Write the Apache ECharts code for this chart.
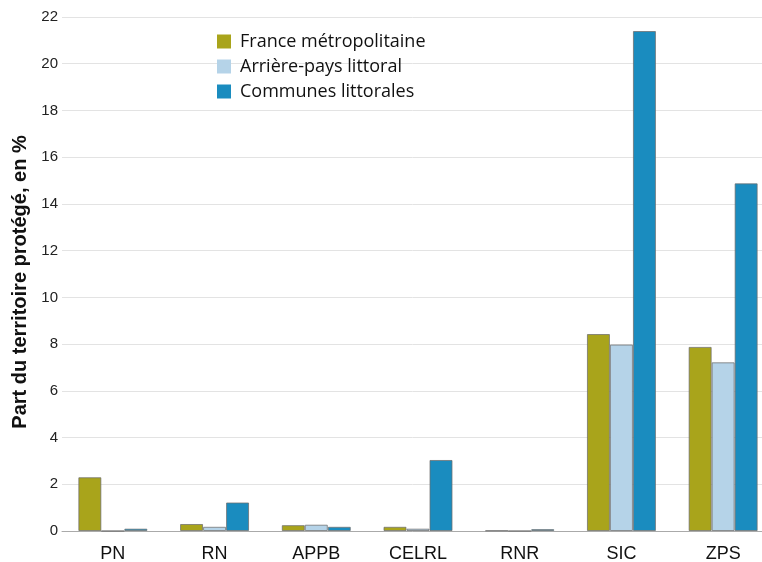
<!DOCTYPE html>
<html>
<head>
<meta charset="utf-8">
<script src="https://cdn.jsdelivr.net/npm/echarts@6/dist/echarts.min.js"></script>
<style>html,body{margin:0;padding:0;background:#fff;}#c{width:762px;height:562px;}</style>
</head>
<body>
<div id="c"></div>
<script>
const categories = ['PN', 'RN', 'APPB', 'CELRL', 'RNR', 'SIC', 'ZPS'];
const seriesNames = ['France métropolitaine', 'Arrière-pays littoral', 'Communes littorales'];
const franceValues = [2.3, 0.3, 0.25, 0.18, 0.02, 8.43, 7.88];
const arriereValues = [0, 0.18, 0.27, 0.1, 0, 7.98, 7.22];
const communesValues = [0.1, 1.22, 0.18, 3.04, 0.08, 21.4, 14.88];
const yTicks = [0, 2, 4, 6, 8, 10, 12, 14, 16, 18, 20, 22];

const colors = ['#A9A41B', '#B5D3E8', '#1A8CBF'];
const valueSets = [franceValues, arriereValues, communesValues];

const chart = echarts.init(document.getElementById('c'));
chart.setOption({
  animation: false,
  backgroundColor: '#fff',
  legend: {
    orient: 'vertical',
    left: 212,
    top: 26,
    itemWidth: 14,
    itemHeight: 14,
    itemGap: 4,
    icon: 'rect',
    itemStyle: { borderWidth: 0 },
    textStyle: { fontFamily: 'Open Sans', fontSize: 18, color: '#111', padding: [0, 0, 0, 4], lineHeight: 21 },
    data: seriesNames
  },
  grid: { left: 62, width: 712, top: 17, bottom: 31, containLabel: false, outerBoundsMode: 'none' },
  xAxis: {
    type: 'category',
    data: categories,
    axisLine: { lineStyle: { color: '#aaaaaa' } },
    axisTick: { length: 6, lineStyle: { color: '#aaaaaa' } },
    axisLabel: { fontFamily: 'Liberation Sans', fontSize: 18, color: '#111', margin: 14 }
  },
  yAxis: {
    type: 'value',
    min: yTicks[0],
    max: yTicks[yTicks.length - 1],
    interval: 2,
    name: 'Part du territoire protégé, en %',
    nameLocation: 'middle',
    nameGap: 30,
    nameTextStyle: { fontFamily: 'Liberation Sans', fontSize: 20, fontWeight: 'bold', color: '#111', padding: [0, 16, 0, 0] },
    axisLine: { show: false },
    axisTick: { show: false },
    axisLabel: { fontFamily: 'Liberation Sans', fontSize: 15, color: '#222', margin: 4 },
    splitLine: { lineStyle: { color: '#e3e3e3' } }
  },
  series: seriesNames.map((n, i) => ({
    name: n,
    type: 'bar',
    data: valueSets[i],
    barWidth: 23,
    barGap: '0%',
    itemStyle: { color: colors[i], borderColor: 'rgba(110,110,110,0.75)', borderWidth: 1 }
  }))
});
</script>
</body>
</html>
